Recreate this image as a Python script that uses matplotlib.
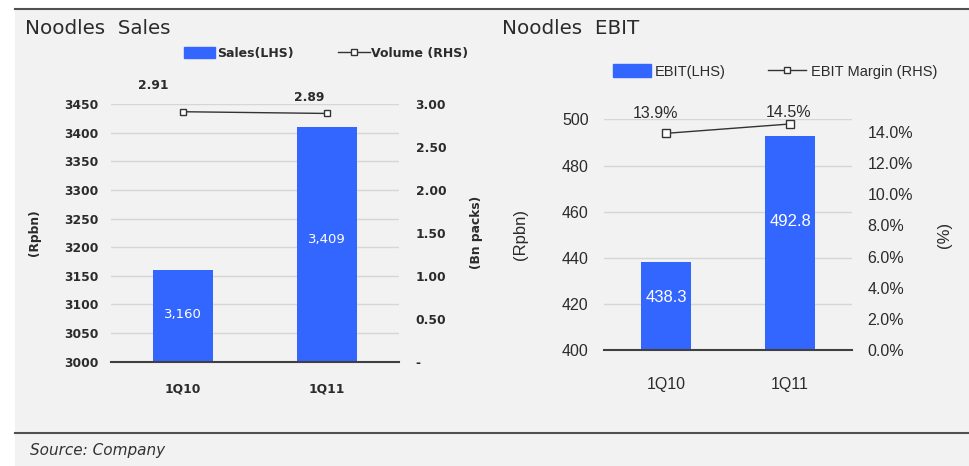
import matplotlib
matplotlib.use("Agg")
import matplotlib.pyplot as plt
import numpy as np
from matplotlib.patches import Rectangle, Patch
from matplotlib.lines import Line2D
from matplotlib.ticker import FuncFormatter, MultipleLocator

# Quarterly noodle segment figures
QUARTERS = ["1Q10", "1Q11"]
SALES = [3160, 3409]          # Rp bn
VOLUME = [2.91, 2.89]         # bn packs
EBIT = [438.3, 492.8]         # Rp bn
EBIT_MARGIN = [13.9, 14.5]    # %

BLUE = "#3366FF"
DARK = "#2b2b2b"
GRID = "#d6d6d6"
W, H = 969, 466

fig = plt.figure(figsize=(W / 100, H / 100), dpi=100)
fig.patch.set_facecolor("white")

# grey panel with rules at the top and above the source line
fig.add_artist(Rectangle((15 / W, 0), 1 - 15 / W, 1 - 9 / H, transform=fig.transFigure,
                         facecolor="#f2f2f2", edgecolor="none", zorder=-10))
for yy in (9, 433):
    fig.add_artist(Line2D([15 / W, 1], [1 - yy / H] * 2, transform=fig.transFigure,
                          color="#505050", lw=1.5))

fig.text(25 / W, 1 - 29 / H, "Noodles  Sales", fontsize=14.3, color=DARK, va="center")
fig.text(502 / W, 1 - 29 / H, "Noodles  EBIT", fontsize=14.3, color=DARK, va="center")
fig.text(30 / W, 1 - 451 / H, "Source: Company", fontsize=11, style="italic",
         color="#333333", va="center")

x = np.arange(len(QUARTERS))


def style_axes(ax, ax2):
    for s in ("top", "left", "right"):
        ax.spines[s].set_visible(False)
        ax2.spines[s].set_visible(False)
    ax2.spines["bottom"].set_visible(False)
    ax.spines["bottom"].set_color("#404040")
    ax.spines["bottom"].set_linewidth(1.5)
    ax.set_facecolor("none")
    ax.yaxis.grid(True, color=GRID, lw=1)
    ax.set_axisbelow(True)
    ax.set_xlim(-0.5, 1.5)
    ax.set_xticks(x)
    ax.set_xticklabels(QUARTERS)


# ---- Noodles Sales ----
ax1 = fig.add_axes([110.7 / W, 1 - 361.7 / H, 288.3 / W, 257.7 / H])
ax1b = ax1.twinx()
style_axes(ax1, ax1b)
left_font = dict(fontsize=8.8, fontweight="bold", color=DARK)

ax1.bar(x, SALES, width=0.42, color=BLUE, zorder=2)
ax1.set_ylim(3000, 3450)
ax1.yaxis.set_major_locator(MultipleLocator(50))
ax1.tick_params(axis="y", length=0, pad=8.5, labelsize=8.8, labelcolor=DARK)
ax1.tick_params(axis="x", length=0, pad=15, labelsize=8.8, labelcolor=DARK)
for lab in ax1.get_xticklabels() + ax1.get_yticklabels():
    lab.set_fontweight("bold")
for xi, v in zip(x, SALES):
    ax1.text(xi, 3000 + 0.52 * (v - 3000), f"{v:,}", ha="center", va="center",
             color="white", fontsize=9.5)

ax1b.plot(x, VOLUME, color="#333333", lw=1, marker="s", ms=4.5, mfc="white",
          mec="#333333", mew=1, zorder=3)
ax1b.set_ylim(0, 3.0)
ax1b.yaxis.set_major_locator(MultipleLocator(0.5))
ax1b.yaxis.set_major_formatter(FuncFormatter(lambda v, p: "-" if v == 0 else f"{v:.2f}"))
ax1b.tick_params(axis="y", length=0, pad=12, labelsize=8.8, labelcolor=DARK)
for lab in ax1b.get_yticklabels():
    lab.set_fontweight("bold")
for xi, v, off in zip(x, VOLUME, [(-21, 19), (-13, 11.5)]):
    ax1b.annotate(f"{v:.2f}", (xi, v), xytext=off, textcoords="offset points",
                  ha="center", va="center", annotation_clip=False, **left_font)

ax1.set_ylabel("(Rpbn)", **left_font)
ax1.yaxis.set_label_coords(-0.242, 0.5)
ax1b.set_ylabel("(Bn packs)", rotation=90, **left_font)
ax1b.yaxis.set_label_coords(1.248, 0.5)

ax1.legend([Patch(color=BLUE), Line2D([], [], color="#333333", lw=1, marker="s", ms=4,
                                      mfc="white", mec="#333333")],
           ["Sales(LHS)", "Volume (RHS)"], loc="center",
           bbox_to_anchor=(326 / W, 1 - 53 / H), bbox_transform=fig.transFigure,
           ncol=2, frameon=False, handlelength=2.5, handleheight=1.0,
           handletextpad=0.15, columnspacing=3.6,
           prop=dict(size=9, weight="bold"), labelcolor=DARK)

# ---- Noodles EBIT ----
ax2 = fig.add_axes([604 / W, 1 - 350.3 / H, 248 / W, 231 / H])
ax2b = ax2.twinx()
style_axes(ax2, ax2b)
right_font = dict(fontsize=11.5, color=DARK, family="Liberation Sans")

ax2.bar(x, EBIT, width=0.40, color=BLUE, zorder=2)
ax2.set_ylim(400, 500)
ax2.yaxis.set_major_locator(MultipleLocator(20))
ax2.tick_params(axis="y", length=0, pad=11, labelsize=11.5, labelcolor=DARK)
ax2.tick_params(axis="x", length=0, pad=19, labelsize=11.5, labelcolor=DARK)
for lab in ax2.get_xticklabels() + ax2.get_yticklabels():
    lab.set_family("Liberation Sans")
for xi, v in zip(x, EBIT):
    ax2.text(xi, 400 + 0.6 * (v - 400), f"{v:.1f}", ha="center", va="center",
             color="white", fontsize=12, family="Liberation Sans")

margin = [m / 100 for m in EBIT_MARGIN]
ax2b.plot(x, margin, color="#333333", lw=1, marker="s", ms=6, mfc="white",
          mec="#333333", mew=1, zorder=3)
ax2b.set_ylim(0, 0.148)
ax2b.yaxis.set_major_locator(MultipleLocator(0.02))
ax2b.yaxis.set_major_formatter(FuncFormatter(lambda v, p: f"{v * 100:.1f}%"))
ax2b.tick_params(axis="y", length=0, pad=11, labelsize=11.5, labelcolor=DARK)
for lab in ax2b.get_yticklabels():
    lab.set_family("Liberation Sans")
for xi, v, m, off in zip(x, margin, EBIT_MARGIN, [(-7.5, 14.5), (-1, 8)]):
    ax2b.annotate(f"{m:.1f}%", (xi, v), xytext=off, textcoords="offset points",
                  ha="center", va="center", annotation_clip=False, **right_font)

ax2.set_ylabel("(Rpbn)", fontsize=12, color=DARK, family="Liberation Sans")
ax2.yaxis.set_label_coords(-0.306, 0.5)
ax2b.set_ylabel("(%)", rotation=90, fontsize=12, color=DARK, family="Liberation Sans")
ax2b.yaxis.set_label_coords(1.343, 0.5)

ax2.legend([Patch(color=BLUE), Line2D([], [], color="#333333", lw=1, marker="s", ms=5,
                                      mfc="white", mec="#333333")],
           ["EBIT(LHS)", "EBIT Margin (RHS)"], loc="center",
           bbox_to_anchor=(775 / W, 1 - 71.5 / H), bbox_transform=fig.transFigure,
           ncol=2, frameon=False, handlelength=2.6, handleheight=1.0,
           handletextpad=0.3, columnspacing=2.9,
           prop=dict(size=10.5, family="Liberation Sans"), labelcolor=DARK)

fig.savefig("out.png", dpi=100, facecolor=fig.get_facecolor())
